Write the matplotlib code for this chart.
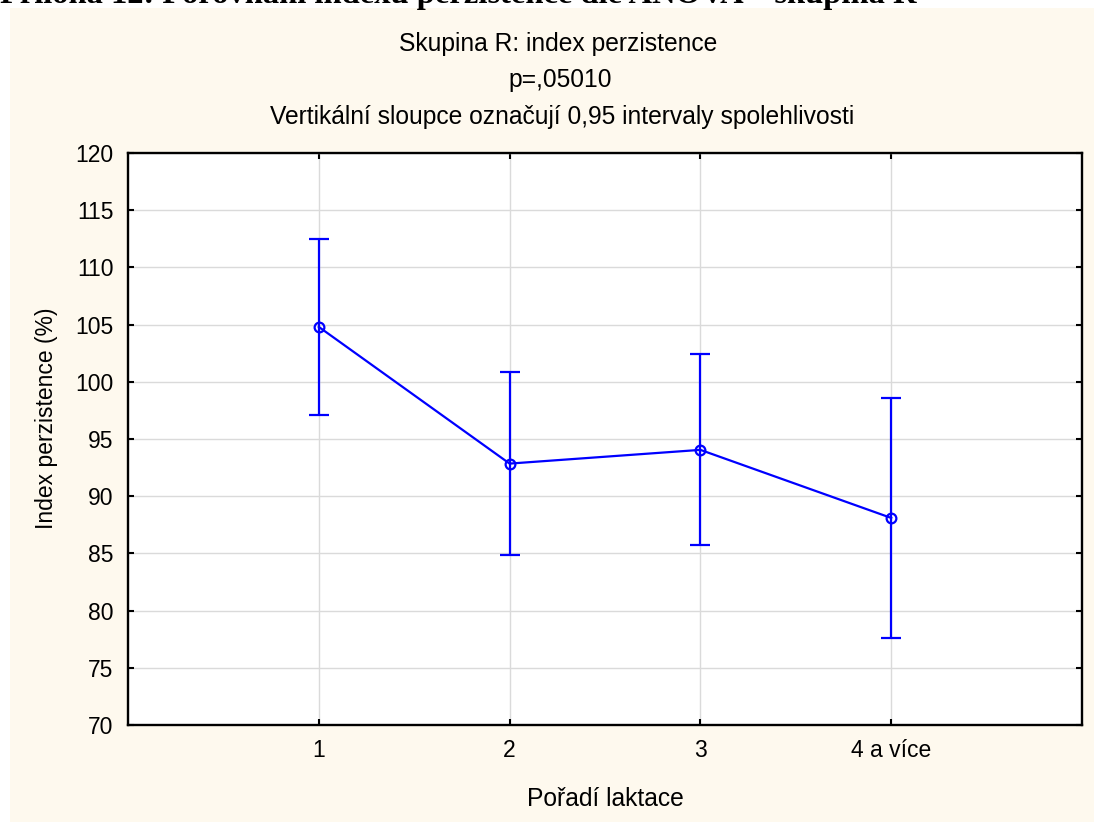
import numpy as np
import matplotlib
matplotlib.use("Agg")
import matplotlib.pyplot as plt
from matplotlib.patches import Rectangle

plt.rcParams['font.family'] = ['Liberation Sans', 'DejaVu Sans']

# prumerny index perzistence a 95% intervaly spolehlivosti podle poradi laktace
laktace = ['1', '2', '3', '4 a více']
prumer = np.array([104.8, 92.85, 94.05, 88.1])
dolni = np.array([97.1, 84.85, 85.7, 77.6])
horni = np.array([112.5, 100.85, 102.4, 98.6])
y_ticks = [70, 75, 80, 85, 90, 95, 100, 105, 110, 115, 120]

W, H = 1094, 822
fs = 16.5
fs_title = 17.7
fig = plt.figure(figsize=(W / 100, H / 100), dpi=100, facecolor='white')

# kremove pozadi grafu
fig.add_artist(Rectangle((10 / W, 0), 1 - 10 / W, 1 - 8 / H,
                         transform=fig.transFigure, facecolor='#FEF9EE',
                         edgecolor='none', zorder=-5))

# useknuty nadpis z dokumentu
fig.text(0.0, 1 - 3 / H, 'Příloha 12: Porovnání indexu perzistence dle ANOVA – skupina R',
         family='Liberation Serif', fontweight='bold', fontsize=23.4, va='baseline', ha='left')

ax = fig.add_axes([128 / W, (H - 725) / H, (1082 - 128) / W, (725 - 153) / H])
ax.set_facecolor('white')

x = np.arange(1, len(laktace) + 1)
yerr = [prumer - dolni, horni - prumer]
ax.errorbar(x, prumer, yerr=yerr, color='#0000FF', lw=1.6, elinewidth=1.6,
            capsize=7, capthick=1.6, marker='o', markersize=7,
            markerfacecolor='none', markeredgewidth=1.6, zorder=3)

ax.set_xlim(0, 5)
ax.set_ylim(70, 120)
ax.set_xticks(x)
ax.set_xticklabels(laktace)
ax.set_yticks(y_ticks)
ax.grid(True, color='#DADADA', lw=1)
ax.set_axisbelow(True)
for s in ax.spines.values():
    s.set_linewidth(1.7)
ax.tick_params(direction='in', length=4, width=1.5, labelsize=fs, pad=10,
               top=True, right=True)
ax.tick_params(axis='y', pad=10.5)

ax.set_xlabel('Pořadí laktace', fontsize=fs_title)
ax.xaxis.set_label_coords(0.5, -(799 - 725) / 572, transform=ax.transAxes)
ax.xaxis.label.set_va('center')
ax.set_ylabel('Index perzistence (%)', fontsize=fs)
ax.yaxis.set_label_coords(-(128 - 47) / 954, (725 - 418) / 572, transform=ax.transAxes)
ax.yaxis.label.set_va('center')

fig.text(558 / W, 1 - 44 / H, 'Skupina R: index perzistence', ha='center', va='center', fontsize=fs_title)
fig.text(560 / W, 1 - 80 / H, 'p=,05010', ha='center', va='center', fontsize=fs_title)
fig.text(562 / W, 1 - 117 / H, 'Vertikální sloupce označují 0,95 intervaly spolehlivosti',
         ha='center', va='center', fontsize=fs_title)

fig.savefig('out.png', dpi=100, facecolor=fig.get_facecolor())
